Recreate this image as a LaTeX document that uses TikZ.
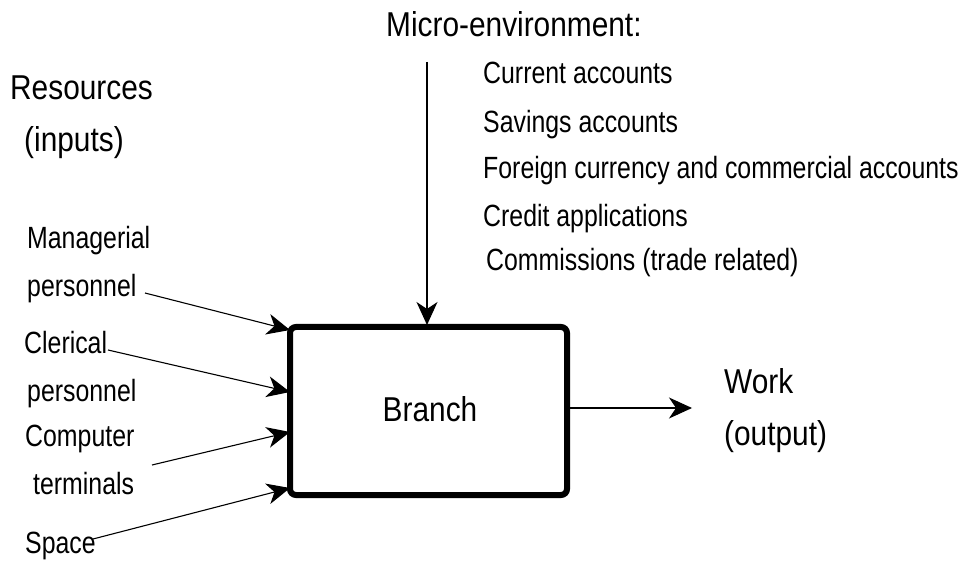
\documentclass[tikz,border=0pt]{standalone}
\usepackage{fontspec}
\setmainfont[FakeStretch=0.81]{Liberation Sans}
\newfontfamily\bigfont[FakeStretch=0.865]{Liberation Sans}
\usetikzlibrary{arrows.meta}
\begin{document}
\begin{tikzpicture}[x=1pt,y=-1pt,
  big/.style={font=\bigfont\fontsize{34.5}{40}\selectfont, inner sep=0pt, anchor=base west},
  small/.style={font=\fontsize{30.7}{35}\selectfont, inner sep=0pt, anchor=base west},
  feed/.style={line width=1.1pt, -{Stealth[length=23pt,width=21pt,inset=7pt]}},
  boxstyle/.style={draw, line width=6pt, rounded corners=6pt, minimum width=277pt, minimum height=168pt, inner sep=0pt}
]
\useasboundingbox (0,0) rectangle (964,569);
% box
\node[boxstyle] (branch) at (428.5,411) {};
\node[big, anchor=base] (blabel) at (430,421) {Branch};
% headings
\node[big] (res) at (10,100) {Resources};
\node[big] (inp) at (24,152) {(inputs)};
\node[big] (micro) at (386,37) {Micro-environment:};
\node[small] (l1) at (483,84) {Current accounts};
\node[small] (l2) at (483,133) {Savings accounts};
\node[small] (l3) at (483,179) {Foreign currency and commercial accounts};
\node[small] (l4) at (483,227) {Credit applications};
\node[small] (l5) at (486,271) {Commissions (trade related)};
% inputs
\node[small] (man1) at (27,249) {Managerial};
\node[small] (man2) at (27,297) {personnel};
\node[small] (cle1) at (24,354) {Clerical};
\node[small] (cle2) at (27,401) {personnel};
\node[small] (com1) at (25,446) {Computer};
\node[small] (com2) at (33,494) {terminals};
\node[small] (spa) at (25,553) {Space};
% output
\node[big] (work) at (724,393) {Work};
\node[big] (outp) at (724,445) {(output)};
% connector end points
\coordinate (mstart) at (145,293);
\coordinate (cstart) at (108,350);
\coordinate (tstart) at (152,465);
\coordinate (sstart) at (93,539);
\coordinate (microstart) at (427,62);
\coordinate (mend) at (290,330);
\coordinate (cend) at (290,392);
\coordinate (tend) at (290,432);
\coordinate (send) at (290,488);
\coordinate (microend) at (427,325);
\coordinate (outend) at (692,408);
\draw[feed] (mstart) -- (mend);
\draw[feed] (cstart) -- (cend);
\draw[feed] (tstart) -- (tend);
\draw[feed] (sstart) -- (send);
\draw[feed] (microstart) -- (microend);
\draw[feed] (branch.east |- outend) -- (outend);
\end{tikzpicture}
\end{document}
